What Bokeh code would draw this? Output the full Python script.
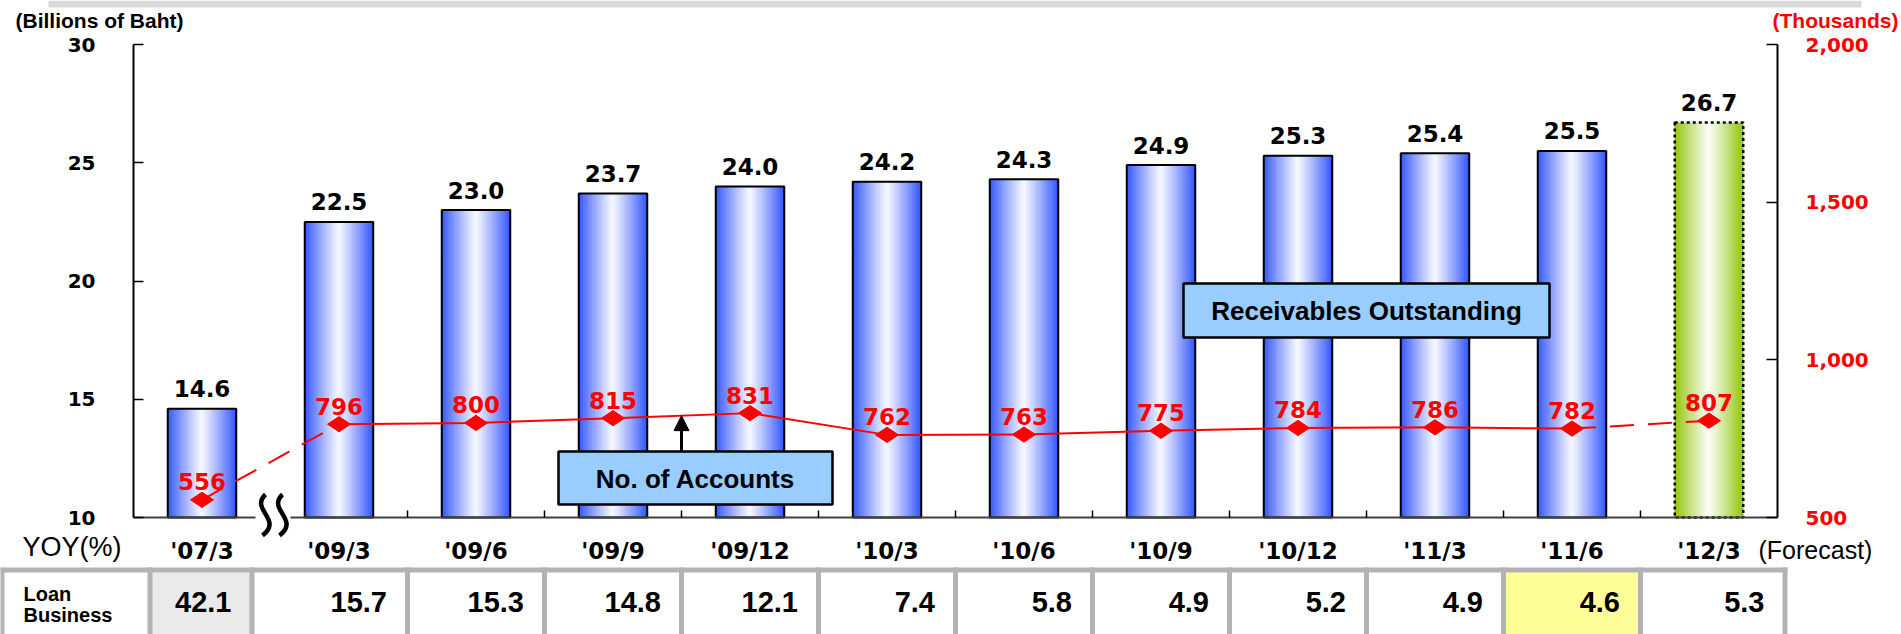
import numpy as np
from bokeh.plotting import figure
from bokeh.models import (Range1d, LinearAxis, FixedTicker, NumeralTickFormatter,
                          Arrow, NormalHead)
from bokeh.core.properties import value
from bokeh.embed import file_html
from bokeh.resources import INLINE

# ---------------- data ----------------
periods = ["'07/3", "'09/3", "'09/6", "'09/9", "'09/12", "'10/3", "'10/6",
           "'10/9", "'10/12", "'11/3", "'11/6", "'12/3"]
receivables = [14.6, 22.5, 23.0, 23.7, 24.0, 24.2, 24.3, 24.9, 25.3, 25.4, 25.5, 26.7]
accounts = [556, 796, 800, 815, 831, 762, 763, 775, 784, 786, 782, 807]
yoy_loan = [42.1, 15.7, 15.3, 14.8, 12.1, 7.4, 5.8, 4.9, 5.2, 4.9, 4.6, 5.3]
left_ticks = [10, 15, 20, 25, 30]
right_ticks = [500, 1000, 1500, 2000]

# ---------------- layout constants (pixels) ----------------
W, H = 1901, 634
FX0, FX1 = 133, 1777          # chart area left / right
FY0, FY1 = 44, 517            # chart area top / bottom
Y_MIN, Y_MAX = 10, 30
A_MIN, A_MAX = 500, 2000
n = len(periods)
CAT_W = (FX1 - FX0) / n

RED = "#ff0000"
GRAY = "#b3b3b3"
BOX = "#99ccff"
BOLD_NUM = "DejaVu Sans"
SANS = "Liberation Sans"


def X(px):
    return (px - FX0) / CAT_W


def Y(py):
    return Y_MIN + (FY1 - py) * (Y_MAX - Y_MIN) / (FY1 - FY0)


def A(py):
    return A_MIN + (FY1 - py) * (A_MAX - A_MIN) / (FY1 - FY0)


def mix(c1, c2, m):
    a = [int(c1[i:i + 2], 16) for i in (1, 3, 5)]
    b = [int(c2[i:i + 2], 16) for i in (1, 3, 5)]
    return "#%02x%02x%02x" % tuple(int(round(a[k] * (1 - m) + b[k] * m)) for k in range(3))


centers = [i + 0.5 for i in range(n)]

p = figure(width=W, height=H, x_range=Range1d(X(0), X(W)), y_range=Range1d(Y(H), Y(0)),
           output_backend="svg", toolbar_location=None, min_border=0,
           outline_line_color=None, background_fill_color="white", border_fill_color="white")
p.title.visible = False
p.extra_x_ranges = {"px": Range1d(0, W)}
p.extra_y_ranges = {"acc": Range1d(A(H), A(0)), "py": Range1d(H, 0)}
p.xgrid.visible = False
p.ygrid.visible = False

# ---------------- axes ----------------
xa = p.xaxis[0]
xa.fixed_location = Y_MIN
xa.bounds = (0, n)
xa.ticker = FixedTicker(ticks=centers, minor_ticks=list(range(2, n)))
xa.major_label_overrides = {c: lab for c, lab in zip(centers, periods)}
xa.major_tick_line_color = None
xa.major_tick_in = 0
xa.major_tick_out = 0
xa.minor_tick_in = 7
xa.minor_tick_out = 0
xa.minor_tick_line_color = "black"
xa.minor_tick_line_width = 1.5
xa.axis_line_color = "#404040"
xa.axis_line_width = 2
xa.major_label_text_font = BOLD_NUM
xa.major_label_text_font_style = "bold"
xa.major_label_text_font_size = "23px"
xa.major_label_text_color = "black"
xa.major_label_standoff = 20

ya = p.yaxis[0]
ya.fixed_location = 0
ya.bounds = (Y_MIN, Y_MAX)
ya.ticker = FixedTicker(ticks=left_ticks)
ya.major_tick_in = 10
ya.major_tick_out = 0
ya.major_tick_line_width = 1.5
ya.minor_tick_line_color = None
ya.axis_line_width = 2
ya.axis_line_color = "black"
ya.major_label_text_font = BOLD_NUM
ya.major_label_text_font_style = "bold"
ya.major_label_text_font_size = "20px"
ya.major_label_text_color = "black"
ya.major_label_standoff = 38

ra = LinearAxis(y_range_name="acc", ticker=FixedTicker(ticks=right_ticks),
                formatter=NumeralTickFormatter(format="0,0"))
ra.fixed_location = n
ra.bounds = (A_MIN, A_MAX)
ra.major_tick_in = 11
ra.major_tick_out = 0
ra.major_tick_line_width = 1.5
ra.minor_tick_line_color = None
ra.axis_line_width = 2
ra.axis_line_color = "black"
ra.major_label_text_font = BOLD_NUM
ra.major_label_text_font_style = "bold"
ra.major_label_text_font_size = "20px"
ra.major_label_text_color = RED
ra.major_label_standoff = 28
p.add_layout(ra, "right")

# ---------------- top decorations ----------------
p.quad(left=[48], right=[1861], top=[0], bottom=[7], x_range_name="px", y_range_name="py",
       fill_color="#d9d9d9", line_color=None)
p.text(x=[15], y=[20], text=["(Billions of Baht)"], x_range_name="px", y_range_name="py",
       text_font=value(SANS), text_font_style="bold", text_font_size="21px",
       text_color="black", text_align="left", text_baseline="middle")
p.text(x=[1898], y=[20], text=["(Thousands)"], x_range_name="px", y_range_name="py",
       text_font=value(SANS), text_font_style="bold", text_font_size="21px",
       text_color=RED, text_align="right", text_baseline="middle")

# ---------------- gradient bars (thin strips) ----------------
BW = 0.5
NS = 30
BLUE_EDGE, BLUE_MID = "#3355ff", "#f7f8ff"
GREEN_EDGE, GREEN_MID = "#92c40c", "#fbfdf6"
xs, tops, cols = [], [], []
for i, v in enumerate(receivables):
    edge, mid = (GREEN_EDGE, GREEN_MID) if i == n - 1 else (BLUE_EDGE, BLUE_MID)
    for k in range(NS):
        f = (k + 0.5) / NS - 0.5
        m = min(1.0, abs(f) * 2) ** 1.1
        xs.append(centers[i] + f * BW)
        tops.append(v)
        cols.append(mix(mid, edge, m))
p.vbar(x=xs, top=tops, bottom=Y_MIN, width=BW / NS * 1.3, fill_color=cols, line_color=None)
p.vbar(x=centers[:-1], top=receivables[:-1], bottom=Y_MIN, width=BW,
       fill_color=None, line_color="black", line_width=2)
p.vbar(x=centers[-1:], top=receivables[-1:], bottom=Y_MIN, width=BW,
       fill_color=None, line_color="black", line_width=2.5, line_dash="3 3")

p.text(x=centers, y=receivables, text=[f"{v:.1f}" for v in receivables],
       text_font=value(BOLD_NUM), text_font_style="bold", text_font_size="23px",
       text_color="black", text_align="center", text_baseline="middle", y_offset=-20)

# ---------------- accounts line ----------------
p.line(x=centers[1:-1], y=accounts[1:-1], y_range_name="acc", line_color=RED, line_width=2)
p.line(x=centers[:2], y=accounts[:2], y_range_name="acc", line_color=RED, line_width=2,
       line_dash="24 14")
p.line(x=centers[-2:], y=accounts[-2:], y_range_name="acc", line_color=RED, line_width=2,
       line_dash="24 14")
p.scatter(x=centers, y=accounts, y_range_name="acc", marker="diamond", size=23,
          angle=np.pi / 2, fill_color=RED, line_color=RED)
p.text(x=centers, y=accounts, y_range_name="acc", text=[str(a) for a in accounts],
       text_font=value(BOLD_NUM), text_font_style="bold", text_font_size="23px",
       text_color=RED, text_align="center", text_baseline="middle", y_offset=-18)

# ---------------- callouts ----------------
p.quad(left=[558, 1183], right=[832, 1549], top=[451, 283], bottom=[504, 337],
       x_range_name="px", y_range_name="py", fill_color=BOX, line_color="black", line_width=2.5)
p.text(x=[695, 1366], y=[478, 310], text=["No. of Accounts", "Receivables Outstanding"],
       x_range_name="px", y_range_name="py", text_font=value(SANS), text_font_style="bold",
       text_font_size="26px", text_color="black", text_align="center", text_baseline="middle")
arrow_x = (centers[3] + centers[4]) / 2
p.add_layout(Arrow(end=NormalHead(size=15, fill_color="black", line_color="black"),
                   x_start=arrow_x, y_start=A(451), x_end=arrow_x,
                   y_end=(accounts[3] + accounts[4]) / 2, y_range_name="acc",
                   line_color="black", line_width=3))

# axis break mark (drawn above the axis line)
p.quad(left=[255], right=[290], top=[513], bottom=[521], x_range_name="px", y_range_name="py",
       fill_color="white", line_color=None, level="overlay")
p.bezier(x0=[265, 282], y0=[494, 494], x1=[262, 279], y1=[535, 535],
         cx0=[249, 266], cy0=[509, 509], cx1=[283, 300], cy1=[519, 519],
         x_range_name="px", y_range_name="py", line_color="black", line_width=4.5,
         level="overlay")

# ---------------- bottom texts ----------------
p.text(x=[22], y=[546], text=["YOY(%)"], x_range_name="px", y_range_name="py",
       text_font=value(SANS), text_font_size="27px", text_color="black",
       text_align="left", text_baseline="middle")
p.text(x=[1758], y=[549], text=["(Forecast)"], x_range_name="px", y_range_name="py",
       text_font=value(SANS), text_font_size="25px", text_color="black",
       text_align="left", text_baseline="middle")

# ---------------- YOY table ----------------
seps = [X(1.5), X(149.5), X(251.5)] + list(range(2, n)) + [X(1784.5)]
cell_l, cell_r = seps[1:-1], seps[2:]
fills = ["white"] * n
fills[0] = "#eaeaea"
fills[10] = "#ffff99"
p.quad(left=cell_l, right=cell_r, top=[572] * n, bottom=[H] * n, y_range_name="py",
       fill_color=fills, line_color=None)
p.quad(left=[0], right=[1787], top=[567], bottom=[572], x_range_name="px", y_range_name="py",
       fill_color=GRAY, line_color=None)
p.segment(x0=seps, y0=[567] * len(seps), x1=seps, y1=[H] * len(seps), y_range_name="py",
          line_color=GRAY, line_width=5)
p.text(x=cell_r, y=[601] * n, y_range_name="py", text=[f"{v:.1f}" for v in yoy_loan],
       x_offset=-20.5, text_font=value(SANS), text_font_style="bold", text_font_size="29px",
       text_color="black", text_align="right", text_baseline="middle")
p.text(x=[23, 23], y=[593, 614], x_range_name="px", y_range_name="py",
       text=["Loan", "Business"], text_font=value(SANS), text_font_style="bold",
       text_font_size="20px", text_color="black", text_align="left", text_baseline="middle")

open("out.html", "w").write(file_html(p, INLINE))
